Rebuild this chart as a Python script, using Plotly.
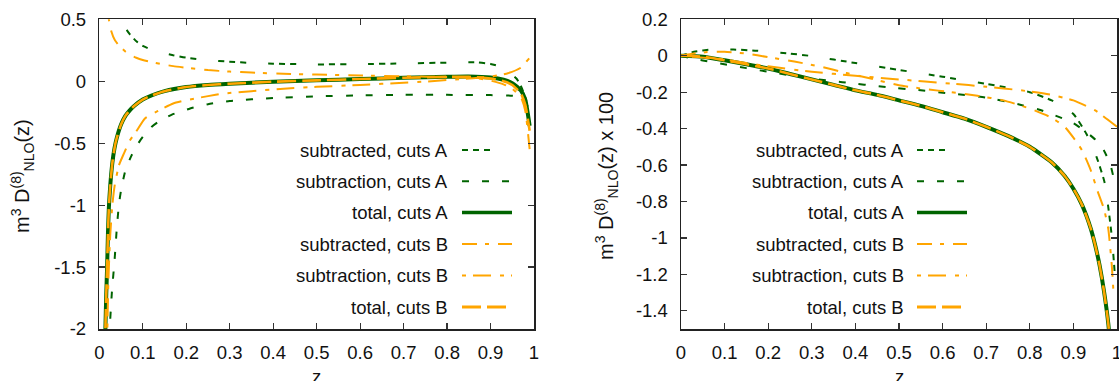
import plotly.graph_objects as go

# ---------------- data ----------------
# Left panel: m^3 D^(8)_NLO(z)
zL_subd_A = [0.035, 0.045, 0.05, 0.06, 0.07, 0.086, 0.1, 0.12, 0.14, 0.17, 0.2, 0.25, 0.3, 0.35, 0.4,
             0.5, 0.6, 0.7, 0.8, 0.87, 0.9, 0.92, 0.94, 0.96, 0.97, 0.98, 0.99]
vL_subd_A = [0.8, 0.58, 0.5, 0.43, 0.38, 0.32, 0.285, 0.255, 0.235, 0.21, 0.19, 0.17, 0.158, 0.148, 0.142,
             0.136, 0.138, 0.144, 0.15, 0.152, 0.14, 0.12, 0.08, 0.02, -0.04, -0.13, -0.28]

zL_subn_A = [0.021, 0.024, 0.029, 0.035, 0.04, 0.045, 0.05, 0.06, 0.074, 0.09, 0.1, 0.12, 0.135, 0.167,
             0.209, 0.25, 0.3, 0.4, 0.5, 0.6, 0.7, 0.8, 0.9, 0.94, 0.96, 0.975, 0.985, 0.99]
vL_subn_A = [-2.4, -2.0, -1.7, -1.45, -1.2, -1.0, -0.88, -0.72, -0.6, -0.5, -0.45, -0.37, -0.33, -0.27,
             -0.22, -0.185, -0.16, -0.135, -0.122, -0.114, -0.11, -0.11, -0.112, -0.115, -0.12, -0.14, -0.2, -0.3]

zL_tot_A = [0.010, 0.012, 0.014, 0.016, 0.018, 0.020, 0.022, 0.025, 0.03, 0.035, 0.04, 0.05, 0.06, 0.07,
            0.08, 0.1, 0.12, 0.15, 0.2, 0.25, 0.3, 0.4, 0.5, 0.6, 0.7, 0.8, 0.85, 0.9, 0.93, 0.95, 0.97,
            0.98, 0.99]
vL_tot_A = [-2.8, -2.35, -2.0, -1.72, -1.5, -1.22, -1.02, -0.85, -0.66, -0.54, -0.46, -0.35, -0.28, -0.235,
            -0.2, -0.148, -0.115, -0.08, -0.047, -0.03, -0.02, -0.004, 0.007, 0.018, 0.028, 0.036, 0.038,
            0.03, 0.012, -0.015, -0.075, -0.15, -0.36]

zL_subd_B = [0.017, 0.022, 0.028, 0.036, 0.045, 0.052, 0.06, 0.071, 0.085, 0.1, 0.117, 0.143, 0.17, 0.209,
             0.25, 0.3, 0.35, 0.44, 0.5, 0.6, 0.7, 0.75, 0.8, 0.86, 0.9, 0.93, 0.95, 0.97, 0.98, 0.99]
vL_subd_B = [0.7, 0.5, 0.4, 0.33, 0.29, 0.266, 0.24, 0.212, 0.19, 0.172, 0.158, 0.138, 0.122, 0.105,
             0.09, 0.078, 0.07, 0.059, 0.054, 0.046, 0.04, 0.037, 0.034, 0.028, 0.005, -0.025, -0.06,
             -0.13, -0.24, -0.55]

zL_subn_B = [0.016, 0.018, 0.021, 0.025, 0.03, 0.035, 0.045, 0.057, 0.07, 0.086, 0.105, 0.135, 0.17, 0.2,
             0.25, 0.285, 0.35, 0.44, 0.5, 0.6, 0.7, 0.75, 0.82, 0.9, 0.94, 0.97, 0.99]
vL_subn_B = [-2.6, -2.1, -1.6, -1.25, -1.0, -0.85, -0.68, -0.58, -0.48, -0.4, -0.3, -0.24, -0.18, -0.153,
             -0.12, -0.1, -0.08, -0.056, -0.045, -0.03, -0.012, -0.003, 0.015, 0.037, 0.065, 0.11, 0.19]

zL_tot_B = [0.010, 0.012, 0.014, 0.016, 0.018, 0.020, 0.022, 0.025, 0.03, 0.035, 0.04, 0.05, 0.06, 0.07,
            0.08, 0.1, 0.12, 0.15, 0.2, 0.25, 0.3, 0.4, 0.5, 0.6, 0.7, 0.8, 0.85, 0.9, 0.93, 0.95, 0.97,
            0.98, 0.99]
vL_tot_B = [-2.8, -2.35, -2.0, -1.72, -1.5, -1.22, -1.02, -0.85, -0.66, -0.54, -0.46, -0.35, -0.28, -0.235,
            -0.2, -0.148, -0.115, -0.08, -0.047, -0.03, -0.02, -0.004, 0.007, 0.018, 0.028, 0.035, 0.035,
            0.022, 0.0, -0.03, -0.1, -0.19, -0.4]

# Right panel: m^3 D^(8)_NLO(z) x 100
zR_subd_A = [0, 0.03, 0.07, 0.12, 0.17, 0.25, 0.3, 0.4, 0.5, 0.6, 0.7, 0.75, 0.8, 0.85, 0.9, 0.93,
             0.953, 0.972, 0.988, 0.995]
vR_subd_A = [0, 0.022, 0.034, 0.034, 0.028, 0.012, -0.002, -0.04, -0.078, -0.115, -0.155, -0.175, -0.2,
             -0.245, -0.32, -0.43, -0.555, -0.7, -0.99, -1.2]

zR_subn_A = [0, 0.03, 0.05, 0.09, 0.15, 0.2, 0.25, 0.3, 0.37, 0.47, 0.55, 0.62, 0.7, 0.78, 0.82, 0.85,
             0.9, 0.93, 0.95, 0.97, 0.985, 0.995]
vR_subn_A = [0, -0.018, -0.026, -0.043, -0.068, -0.088, -0.107, -0.125, -0.145, -0.172, -0.19, -0.208,
             -0.23, -0.27, -0.295, -0.32, -0.37, -0.42, -0.46, -0.52, -0.6, -0.7]

zR_tot_A = [0, 0.05, 0.1, 0.15, 0.2, 0.25, 0.3, 0.35, 0.4, 0.45, 0.5, 0.55, 0.6, 0.65, 0.7, 0.75, 0.8,
            0.85, 0.88, 0.9, 0.92, 0.94, 0.95, 0.96, 0.97, 0.98, 0.99]
vR_tot_A = [0, -0.005, -0.025, -0.047, -0.07, -0.1, -0.13, -0.16, -0.19, -0.215, -0.245, -0.275, -0.31,
            -0.345, -0.39, -0.44, -0.5, -0.585, -0.66, -0.73, -0.82, -0.95, -1.04, -1.15, -1.29, -1.47, -1.75]

zR_subd_B = [0, 0.03, 0.06, 0.1, 0.15, 0.2, 0.26, 0.32, 0.38, 0.43, 0.5, 0.56, 0.62, 0.68, 0.74, 0.8,
             0.85, 0.88, 0.9, 0.92, 0.94, 0.955, 0.97, 0.98, 0.988, 0.992]
vR_subd_B = [0, 0.012, 0.02, 0.022, 0.012, -0.008, -0.032, -0.06, -0.095, -0.122, -0.162, -0.183, -0.2,
             -0.22, -0.245, -0.29, -0.34, -0.39, -0.45, -0.52, -0.63, -0.74, -0.84, -0.95, -1.15, -1.3]

zR_subn_B = [0, 0.03, 0.06, 0.1, 0.15, 0.2, 0.3, 0.4, 0.5, 0.62, 0.7, 0.78, 0.85, 0.9, 0.95, 0.97, 1.0]
vR_subn_B = [0, -0.006, -0.012, -0.02, -0.04, -0.058, -0.088, -0.11, -0.13, -0.153, -0.17, -0.19, -0.215,
             -0.245, -0.3, -0.335, -0.39]

zR_tot_B = zR_tot_A
vR_tot_B = vR_tot_A

series_names = ["subtracted, cuts A", "subtraction, cuts A", "total, cuts A",
                "subtracted, cuts B", "subtraction, cuts B", "total, cuts B"]

x_ticks = [0, 0.1, 0.2, 0.3, 0.4, 0.5, 0.6, 0.7, 0.8, 0.9, 1]
x_ticklabels = ["0", "0.1", "0.2", "0.3", "0.4", "0.5", "0.6", "0.7", "0.8", "0.9", "1"]
yL_ticks = [-2, -1.5, -1, -0.5, 0, 0.5]
yL_ticklabels = ["-2", "-1.5", "-1", "-0.5", "0", "0.5"]
yR_ticks = [0.2, 0, -0.2, -0.4, -0.6, -0.8, -1.0, -1.2, -1.4]
yR_ticklabels = ["0.2", "0", "-0.2", "-0.4", "-0.6", "-0.8", "-1", "-1.2", "-1.4"]

# ---------------- styling ----------------
W, H = 1119, 381
GREEN = "#006400"
ORANGE = "#FFA500"
FONT = "Liberation Sans, Arial, Helvetica, sans-serif"
FS = 18.5

styles = [
    dict(color=GREEN, width=2, dash="6px,5px,6px,5px,6px,22px"),
    dict(color=GREEN, width=2, dash="7px,13px"),
    dict(color=GREEN, width=4, dash="solid"),
    dict(color=ORANGE, width=2, dash="15px,8px,4px,9px"),
    dict(color=ORANGE, width=2, dash="4px,7px,18px,9px"),
    dict(color=ORANGE, width=2.6, dash="19px,6px"),
]

left_data = [(zL_subd_A, vL_subd_A), (zL_subn_A, vL_subn_A), (zL_tot_A, vL_tot_A),
             (zL_subd_B, vL_subd_B), (zL_subn_B, vL_subn_B), (zL_tot_B, vL_tot_B)]
right_data = [(zR_subd_A, vR_subd_A), (zR_subn_A, vR_subn_A), (zR_tot_A, vR_tot_A),
              (zR_subd_B, vR_subd_B), (zR_subn_B, vR_subn_B), (zR_tot_B, vR_tot_B)]

fig = go.Figure()
for (xs, ys), st, nm in zip(left_data, styles, series_names):
    fig.add_trace(go.Scatter(x=xs, y=ys, mode="lines", name=nm, line=dict(shape="spline", smoothing=0.5, **st),
                             xaxis="x", yaxis="y", showlegend=False, hoverinfo="skip"))
for (xs, ys), st, nm in zip(right_data, styles, series_names):
    fig.add_trace(go.Scatter(x=xs, y=ys, mode="lines", name=nm, line=dict(shape="spline", smoothing=0.5, **st),
                             xaxis="x2", yaxis="y2", showlegend=False, hoverinfo="skip"))

def px_x(p):
    return p / W

def px_y(p):
    return 1 - p / H

plot_top, plot_bot = 19.3, 329
L_left, L_right = 99.3, 534
R_left, R_right = 681, 1117

axis_common = dict(showline=True, linecolor="#222", linewidth=1.5, mirror="allticks", ticks="inside",
                   ticklen=6, tickwidth=1.2, tickcolor="#333", showgrid=False, zeroline=False,
                   ticklabeloverflow="allow",
                   tickfont=dict(family=FONT, size=FS, color="#111"))

fig.update_layout(
    width=W, height=H, margin=dict(l=0, r=0, t=0, b=0),
    paper_bgcolor="white", plot_bgcolor="white", template="none",
    showlegend=False, hovermode=False,
    xaxis=dict(domain=[px_x(L_left), px_x(L_right)], range=[0, 1], tickvals=x_ticks, ticktext=x_ticklabels,
               anchor="y", ticklabelstandoff=6, **axis_common),
    yaxis=dict(domain=[px_y(plot_bot), px_y(plot_top)], range=[-2, 0.5], tickvals=yL_ticks,
               ticktext=yL_ticklabels, anchor="x", ticklabelstandoff=8, **axis_common),
    xaxis2=dict(domain=[px_x(R_left), px_x(R_right)], range=[0, 1], tickvals=x_ticks, ticktext=x_ticklabels,
                anchor="y2", ticklabelstandoff=6, **axis_common),
    yaxis2=dict(domain=[px_y(plot_bot), px_y(plot_top)], range=[-1.5, 0.2], tickvals=yR_ticks,
                ticktext=yR_ticklabels, anchor="x2", ticklabelstandoff=8, **axis_common),
)

ann = []
shapes = []
ylab = "m<sup>3</sup> D<sup>(8)</sup><sub>NLO</sub>(z)"
TFS = 20
ann.append(dict(text=ylab, x=px_x(22), y=px_y(176), xref="paper", yref="paper", textangle=-90,
                showarrow=False, font=dict(family=FONT, size=TFS, color="#111"), xanchor="center", yanchor="middle"))
ann.append(dict(text=ylab + " x 100", x=px_x(606), y=px_y(176), xref="paper", yref="paper", textangle=-90,
                showarrow=False, font=dict(family=FONT, size=TFS, color="#111"), xanchor="center", yanchor="middle"))
for cx in [(L_left + L_right) / 2, (R_left + R_right) / 2]:
    ann.append(dict(text="z", x=px_x(cx), y=px_y(376), xref="paper", yref="paper", showarrow=False,
                    font=dict(family=FONT, size=FS, color="#111"), xanchor="center", yanchor="middle"))

rows = [150, 181.3, 212.6, 244, 275.5, 307]
for text_right, s0, s1 in [(450, 462, 512), (906, 917, 967)]:
    for r, nm, st in zip(rows, series_names, styles):
        ann.append(dict(text=nm, x=px_x(text_right), y=px_y(r), xref="paper", yref="paper", showarrow=False,
                        xanchor="right", yanchor="middle", font=dict(family=FONT, size=FS, color="#111")))
        lw = 3.5 if st["dash"] == "solid" else (3 if st["width"] > 2.5 else 2)
        shapes.append(dict(type="line", xref="paper", yref="paper", x0=px_x(s0), x1=px_x(s1),
                           y0=px_y(r), y1=px_y(r), line=dict(color=st["color"], width=lw, dash=st["dash"])))

fig.update_layout(annotations=ann, shapes=shapes)
fig.write_html("out.html", config={"displayModeBar": False, "staticPlot": True},
               post_script="document.body.style.margin='0';document.body.style.overflow='hidden';")
